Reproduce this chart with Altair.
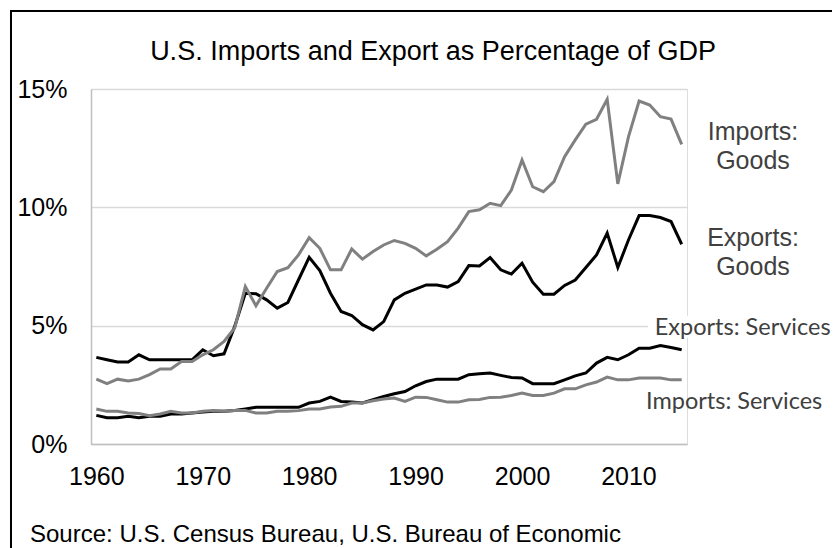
import altair as alt
import pandas as pd

years = list(range(1960, 2016))

exports_goods = [3.66, 3.56, 3.47, 3.47, 3.77, 3.56, 3.56, 3.56, 3.56, 3.56,
                 3.98, 3.73, 3.81, 4.97, 6.37, 6.35, 6.09, 5.74, 5.98, 6.94,
                 7.89, 7.33, 6.37, 5.60, 5.43, 5.04, 4.82, 5.17, 6.09, 6.37,
                 6.54, 6.72, 6.72, 6.63, 6.86, 7.54, 7.52, 7.88, 7.36, 7.18,
                 7.64, 6.84, 6.33, 6.33, 6.70, 6.93, 7.46, 7.99, 8.91, 7.46,
                 8.62, 9.65, 9.65, 9.57, 9.40, 8.44]

imports_goods = [2.74, 2.55, 2.74, 2.66, 2.74, 2.93, 3.17, 3.17, 3.49, 3.49,
                 3.77, 3.98, 4.33, 4.90, 6.65, 5.84, 6.58, 7.29, 7.45, 7.99,
                 8.72, 8.27, 7.36, 7.36, 8.24, 7.81, 8.13, 8.41, 8.60, 8.48,
                 8.27, 7.95, 8.23, 8.55, 9.12, 9.82, 9.90, 10.17, 10.07, 10.73,
                 12.00, 10.87, 10.66, 11.09, 12.14, 12.85, 13.51, 13.72, 14.56, 10.99,
                 12.98, 14.49, 14.32, 13.83, 13.73, 12.66]

exports_services = [1.21, 1.11, 1.11, 1.17, 1.11, 1.17, 1.17, 1.27, 1.27, 1.31,
                    1.35, 1.38, 1.38, 1.42, 1.48, 1.55, 1.55, 1.55, 1.55, 1.55,
                    1.73, 1.80, 1.98, 1.80, 1.77, 1.73, 1.87, 2.01, 2.12, 2.22,
                    2.46, 2.64, 2.74, 2.74, 2.74, 2.93, 2.97, 3.00, 2.90, 2.81,
                    2.79, 2.55, 2.55, 2.55, 2.71, 2.88, 3.00, 3.42, 3.66, 3.56,
                    3.77, 4.05, 4.05, 4.16, 4.08, 3.98]

imports_services = [1.48, 1.38, 1.38, 1.31, 1.29, 1.19, 1.27, 1.38, 1.31, 1.31,
                    1.38, 1.42, 1.38, 1.42, 1.42, 1.31, 1.31, 1.38, 1.38, 1.41,
                    1.48, 1.48, 1.56, 1.59, 1.73, 1.73, 1.83, 1.90, 1.94, 1.80,
                    1.98, 1.97, 1.87, 1.77, 1.77, 1.87, 1.88, 1.97, 1.98, 2.05,
                    2.15, 2.05, 2.05, 2.15, 2.33, 2.33, 2.50, 2.62, 2.83, 2.71,
                    2.71, 2.79, 2.79, 2.79, 2.71, 2.71]

series_names = ["Exports: Goods", "Exports: Services", "Imports: Goods", "Imports: Services"]
series_colors = ["#000000", "#000000", "#808080", "#808080"]

x_ticks = [1960, 1970, 1980, 1990, 2000, 2010]
y_ticks = [0, 5, 10, 15]

title_text = "U.S. Imports and Export as Percentage of GDP"
source_text = "Source: U.S. Census Bureau, U.S. Bureau of Economic"

goods_label_text = ["Imports:", "Goods", "Exports:", "Goods"]
goods_label_year = [2021.7, 2021.7, 2021.7, 2021.7]
goods_label_value = [12.85, 11.61, 8.37, 7.12]

svc_label_text = ["Exports: Services", "Imports: Services"]
svc_label_year = [2020.73, 2019.93]
svc_label_value = [4.61, 1.49]

# ---- build tables ----
rows = []
for name, vals in zip(series_names, [exports_goods, exports_services, imports_goods, imports_services]):
    for yr, v in zip(years, vals):
        rows.append({"year": yr, "value": v, "series": name})
df = pd.DataFrame(rows)

goods_df = pd.DataFrame({"year": goods_label_year, "value": goods_label_value, "text": goods_label_text})
svc_df = pd.DataFrame({"year": svc_label_year, "value": svc_label_value, "text": svc_label_text})
one = pd.DataFrame({"a": [0]})

AX_FONT = "Liberation Sans"

xscale = alt.Scale(domain=[1959.5, 2015.5], nice=False, zero=False)
yscale = alt.Scale(domain=[0, 15], nice=False, zero=True)

xaxis = alt.Axis(values=x_ticks, format="d", title=None, grid=False, ticks=False,
                 domainColor="#bfbfbf", domainWidth=1.5,
                 labelFont=AX_FONT, labelFontSize=25, labelColor="#000000",
                 labelPadding=20, labelFlush=False, labelOverlap=False)
yaxis = alt.Axis(values=y_ticks, labelExpr="datum.value + '%'", title=None,
                 grid=True, gridColor="#d9d9d9", gridWidth=1.5, ticks=False,
                 domainColor="#bfbfbf", domainWidth=1.5,
                 labelFont=AX_FONT, labelFontSize=25, labelColor="#000000",
                 labelPadding=24)


def X():
    return alt.X("year:Q", scale=xscale, axis=xaxis)


def Y():
    return alt.Y("value:Q", scale=yscale, axis=yaxis)


layers = []

# outer chart border
layers.append(
    alt.Chart(one).mark_rect(fillOpacity=0, stroke="#000000", strokeWidth=2).encode(
        x=alt.value(-80), x2=alt.value(900), y=alt.value(-78), y2=alt.value(900)
    )
)

# white background behind "Exports: Services" label (covers the 5% gridline)
layers.append(
    alt.Chart(one).mark_rect(fill="white").encode(
        x=alt.value(557), x2=alt.value(600), y=alt.value(227), y2=alt.value(249)
    )
)

for name, col in zip(series_names, series_colors):
    layers.append(
        alt.Chart(df).transform_filter(alt.datum.series == name)
        .mark_line(color=col, strokeWidth=3)
        .encode(x=X(), y=Y())
    )

layers.append(
    alt.Chart(goods_df).mark_text(font=AX_FONT, fontSize=25, color="#404040",
                                  align="center", baseline="alphabetic")
    .encode(x=X(), y=Y(), text="text:N")
)

layers.append(
    alt.Chart(svc_df).mark_text(font="Lato", fontSize=23.5, color="#404040",
                                align="center", baseline="alphabetic")
    .encode(x=X(), y=Y(), text="text:N")
)

layers.append(
    alt.Chart(one).mark_text(text=title_text, font=AX_FONT, fontSize=27, color="#000000",
                             align="center", baseline="alphabetic")
    .encode(x=alt.value(342), y=alt.value(-29))
)

layers.append(
    alt.Chart(one).mark_text(text=source_text, font=AX_FONT, fontSize=24, color="#000000",
                             align="left", baseline="alphabetic")
    .encode(x=alt.value(-61), y=alt.value(453))
)

chart = alt.layer(*layers).properties(
    width=596, height=355,
    autosize=alt.AutoSizeParams(type="none"),
    padding={"left": 83, "top": 81, "right": 145, "bottom": 104},
).configure_view(stroke=None).configure(background="white")

chart.save("out.html", embed_options={"renderer": "svg", "actions": False})
